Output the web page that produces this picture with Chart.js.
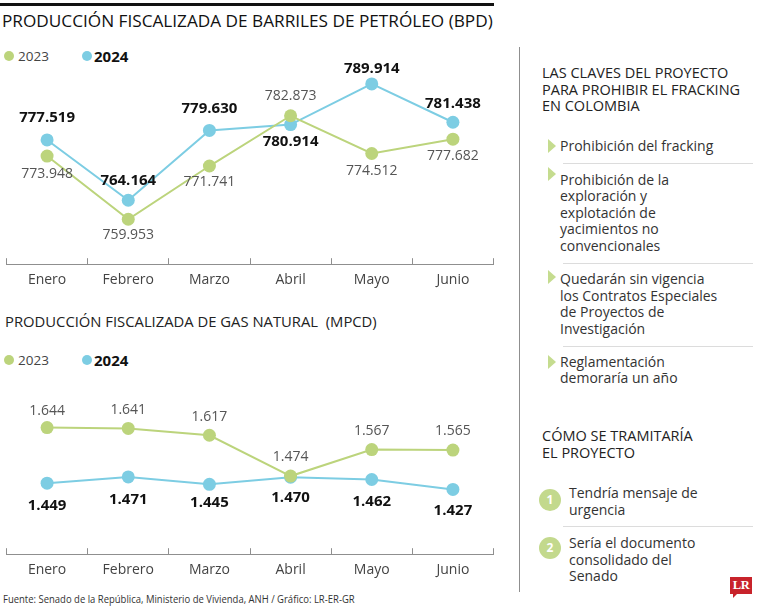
<!DOCTYPE html>
<html><head><meta charset="utf-8">
<script src="https://cdn.jsdelivr.net/npm/chart.js@4"></script>
<style>
body{margin:0;background:#fff;width:758px;height:607px;overflow:hidden;position:relative;font-family:"Open Sans",sans-serif;color:#222}
.a{position:absolute;white-space:nowrap}
canvas{position:absolute}
.dot{position:absolute;width:10px;height:10px;border-radius:50%}
.leg{position:absolute;font-size:13.5px;color:#444;line-height:16px}
.legb{position:absolute;font-size:15px;font-weight:700;color:#111;line-height:16px}
.sb{position:absolute;left:560px;font-size:14px;line-height:16.6px;color:#333;white-space:nowrap}
.hd{position:absolute;left:542px;font-size:14.5px;line-height:16.7px;color:#222;white-space:nowrap;font-weight:500}
.tri{position:absolute;left:548px;width:0;height:0;border-top:7px solid transparent;border-bottom:7px solid transparent;border-left:8px solid #c5dc8f}
.sep{position:absolute;left:563px;width:190px;height:1px;background:#dcdcdc}
.num{position:absolute;left:539px;width:22px;height:22px;border-radius:50%;background:#c3d98d;color:#fff;font-weight:700;font-size:12px;line-height:22px;text-align:center}
</style></head><body>
<div class="a" style="left:0;top:3px;width:494px;height:3px;background:#111"></div>
<div class="a" id="t1" style="left:2px;top:9px;font-size:17.2px;font-weight:500;color:#111;line-height:24px">PRODUCCIÓN FISCALIZADA DE BARRILES DE PETRÓLEO (BPD)</div>
<div class="dot" style="left:4px;top:51px;background:#bcd47c"></div>
<div class="leg" style="left:18px;top:48px">2023</div>
<div class="dot" style="left:82px;top:51px;background:#7dcde3"></div>
<div class="legb" style="left:94px;top:48px">2024</div>

<canvas id="c1" width="500" height="261" style="left:0;top:40px"></canvas>

<div class="a" id="t2" style="left:5px;top:311px;font-size:14.8px;color:#222;line-height:20px">PRODUCCIÓN FISCALIZADA DE GAS NATURAL&nbsp; (MPCD)</div>
<div class="dot" style="left:4px;top:355px;background:#bcd47c"></div>
<div class="leg" style="left:18px;top:352px">2023</div>
<div class="dot" style="left:82px;top:355px;background:#7dcde3"></div>
<div class="legb" style="left:94px;top:352px">2024</div>

<canvas id="c2" width="500" height="211" style="left:0;top:380px"></canvas>

<div class="a" id="src" style="left:3px;top:592px;font-size:10.6px;color:#333;line-height:14px;transform:scaleX(0.895);transform-origin:0 0">Fuente: Senado de la República, Ministerio de Vivienda, ANH / Gráfico: LR-ER-GR</div>

<div class="a" style="left:519px;top:47px;width:1px;height:545px;background:#8f8f8f"></div>
<div class="hd" style="top:65px">LAS CLAVES DEL PROYECTO<br>PARA PROHIBIR EL FRACKING<br>EN COLOMBIA</div>
<div class="tri" style="top:139px"></div>
<div class="sb" style="top:137.7px">Prohibición del fracking</div>
<div class="sep" style="top:163px"></div>
<div class="tri" style="top:167px"></div>
<div class="sb" style="top:171.7px">Prohibición de la<br>exploración y<br>explotación de<br>yacimientos no<br>convencionales</div>
<div class="sep" style="top:263px"></div>
<div class="tri" style="top:270px"></div>
<div class="sb" style="top:271px">Quedarán sin vigencia<br>los Contratos Especiales<br>de Proyectos de<br>Investigación</div>
<div class="sep" style="top:346px"></div>
<div class="tri" style="top:355px"></div>
<div class="sb" style="top:353.7px">Reglamentación<br>demoraría un año</div>
<div class="hd" style="top:428.4px">CÓMO SE TRAMITARÍA<br>EL PROYECTO</div>
<div class="num" style="top:489px">1</div>
<div class="sb" style="left:569px;top:485px">Tendría mensaje de<br>urgencia</div>
<div class="sep" style="top:526px"></div>
<div class="num" style="top:537px">2</div>
<div class="sb" style="left:569px;top:535px">Sería el documento<br>consolidado del<br>Senado</div>
<div class="a" style="left:730px;top:577px;width:22px;height:17px;background:#c8232b;color:#fff;font-family:'Liberation Serif',serif;font-weight:700;font-size:12.5px;line-height:17px;text-align:center;letter-spacing:-0.5px">LR</div>
<div class="a" style="left:733px;top:593px;width:0;height:0;border-top:5px solid #c8232b;border-right:5px solid transparent"></div>

<script>
// ---- data ----
const months = ['Enero', 'Febrero', 'Marzo', 'Abril', 'Mayo', 'Junio'];
const seriesNames = ['2023', '2024'];
const oil2023 = [773948, 759953, 771741, 782873, 774512, 777682];
const oil2024 = [777519, 764164, 779630, 780914, 789914, 781438];
const gas2023 = [1644, 1641, 1617, 1474, 1567, 1565];
const gas2024 = [1449, 1471, 1445, 1470, 1462, 1427];

// ---- styles ----
const GREEN = '#bcd47c', BLUE = '#7dcde3';
// vertical offset (px) of each value label from its point
const oilLabelDy = [[18, 16, 16, -20, 18, 17], [-22, -20, -22, 17, -15, -19]];
const gasLabelDy = [[-17, -18, -18, -19, -19, -19], [23, 23, 18, 21, 22, 21]];

function fmt(v){ return String(Math.round(v)).replace(/\B(?=(\d{3})+(?!\d))/g, '.'); }

const valueLabels = {
  id: 'valueLabels',
  afterDatasetsDraw(chart, args, opts){
    const ctx = chart.ctx;
    chart.data.datasets.forEach((ds, i) => {
      const meta = chart.getDatasetMeta(i);
      ctx.save();
      ctx.font = opts.fonts[i];
      ctx.fillStyle = opts.colors[i];
      ctx.textAlign = 'center';
      ctx.textBaseline = 'middle';
      meta.data.forEach((pt, j) => {
        ctx.fillText(fmt(ds.data[j]), pt.x, pt.y + opts.dy[i][j]);
      });
      ctx.restore();
    });
  }
};

function ds(label, data, color){
  return {label, data, borderColor: color, backgroundColor: color, pointBackgroundColor: color,
    pointRadius: 6.5, pointHoverRadius: 6.5, pointBorderWidth: 0, borderWidth: 2, tension: 0};
}

function makeChart(id, d1, d2, min, max, padTop, dy){
  return new Chart(document.getElementById(id), {
    type: 'line',
    data: { labels: months, datasets: [ds(seriesNames[0], d1, GREEN), ds(seriesNames[1], d2, BLUE)] },
    plugins: [valueLabels],
    options: {
      responsive: false, animation: false, events: [],
      layout: { padding: { top: padTop, left: 4, right: 6, bottom: 0 } },
      plugins: {
        legend: { display: false }, tooltip: { enabled: false },
        valueLabels: {
          dy,
          fonts: ['400 14px "Open Sans"', '700 15px "Open Sans"'],
          colors: ['#555', '#111']
        }
      },
      scales: {
        x: {
          offset: true,
          grid: { offset: true, drawOnChartArea: false, drawTicks: true, tickLength: -6, color: '#8f8f8f' },
          border: { color: '#8f8f8f', width: 1 },
          ticks: { font: { family: 'Open Sans', size: 14 }, color: '#444', padding: 13, autoSkip: false, maxRotation: 0 }
        },
        y: { display: false, min, max }
      }
    }
  });
}

makeChart('c1', oil2023, oil2024, 750000, 795000, 21, oilLabelDy);
makeChart('c2', gas2023, gas2024, 1200, 1700, 31.6, gasLabelDy);
</script>
</body></html>
